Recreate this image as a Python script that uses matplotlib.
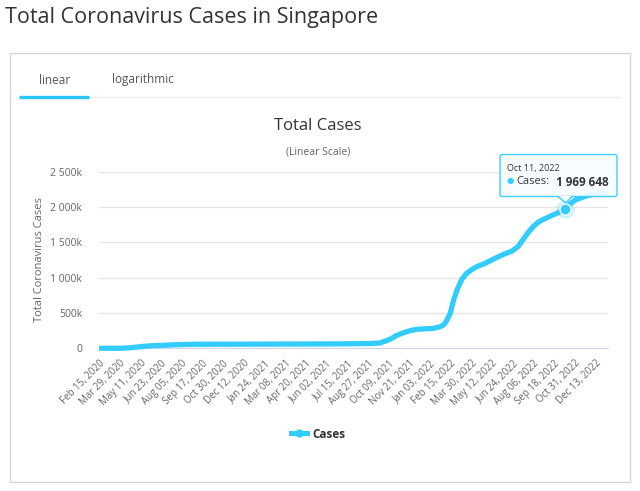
import datetime as dt
import matplotlib
matplotlib.use("Agg")
import matplotlib.pyplot as plt
from matplotlib.patches import Rectangle, FancyBboxPatch, Polygon
from matplotlib.lines import Line2D
from matplotlib.ticker import FuncFormatter

plt.rcParams["font.family"] = ["Open Sans", "DejaVu Sans"]

# ---- data ----
dates = [
    "2020-02-15", "2020-03-15", "2020-04-05", "2020-04-20", "2020-05-05",
    "2020-05-20", "2020-06-10", "2020-07-05", "2020-08-01", "2020-09-01",
    "2020-10-15", "2020-12-15", "2021-02-15", "2021-04-15", "2021-06-15",
    "2021-08-01", "2021-09-01", "2021-09-21", "2021-10-12", "2021-10-25",
    "2021-11-09", "2021-11-25", "2021-12-10", "2021-12-28", "2022-01-10",
    "2022-01-24", "2022-02-01", "2022-02-07", "2022-02-14", "2022-02-21",
    "2022-02-28", "2022-03-10", "2022-03-20", "2022-04-01", "2022-04-10",
    "2022-04-25", "2022-05-04", "2022-05-20", "2022-06-05", "2022-06-22",
    "2022-07-05", "2022-07-15", "2022-07-25", "2022-08-05", "2022-08-15",
    "2022-08-25", "2022-09-10", "2022-09-25", "2022-10-11", "2022-10-22",
    "2022-11-01", "2022-11-11", "2022-11-25", "2022-12-10", "2022-12-25",
    "2023-01-08",
]
cases = [
    72, 226, 1300, 8000, 19000,
    29000, 38500, 45000, 52500, 56800,
    57900, 58400, 59900, 60800, 62300,
    65000, 68000, 75000, 127000, 180000,
    221000, 255000, 271000, 277000, 282000,
    305000, 335000, 395000, 495000, 680000,
    825000, 975000, 1061000, 1120000, 1155000,
    1195000, 1225000, 1280000, 1330000, 1375000,
    1440000, 1535000, 1630000, 1720000, 1780000,
    1820000, 1870000, 1915000, 1969648, 2050000,
    2100000, 2125000, 2160000, 2180000, 2192000,
    2200000,
]
tick_dates = [
    "2020-02-15", "2020-03-29", "2020-05-11", "2020-06-23", "2020-08-05",
    "2020-09-17", "2020-10-30", "2020-12-12", "2021-01-24", "2021-03-08",
    "2021-04-20", "2021-06-02", "2021-07-15", "2021-08-27", "2021-10-09",
    "2021-11-21", "2022-01-03", "2022-02-15", "2022-03-30", "2022-05-12",
    "2022-06-24", "2022-08-06", "2022-09-18", "2022-10-31", "2022-12-13",
]
y_ticks = [0, 500000, 1000000, 1500000, 2000000, 2500000]
hover_date = "2022-10-11"
hover_value = 1969648

LINE_COLOR = "#33ccff"
W, H = 640, 491


def px(x, y):
    """pixel position (top-left origin) -> figure fraction"""
    return x / W, 1 - y / H


def to_dt(s):
    return dt.datetime.strptime(s, "%Y-%m-%d")


x = [to_dt(d) for d in dates]

fig = plt.figure(figsize=(6.4, 4.91), dpi=100)
fig.patch.set_facecolor("white")

# page title and panel frame
fig.text(*px(5, 17), "Total Coronavirus Cases in Singapore", fontsize=15.5,
         color="#333333", va="center", ha="left")
x0, y0 = px(10, 482)
fig.add_artist(Rectangle((x0, y0), 620 / W, 429 / H, transform=fig.transFigure,
                         fill=False, edgecolor="#d6d6d6", lw=1))

# tabs
fig.text(*px(55, 80), "linear", fontsize=8.5, color="#555555", ha="center", va="center")
fig.text(*px(143, 80), "logarithmic", fontsize=8.5, color="#555555", ha="center", va="center")
fig.add_artist(Line2D([89 / W, 620 / W], [1 - 96.5 / H] * 2, transform=fig.transFigure,
                      color="#eeeeee", lw=1))
fig.add_artist(Line2D([19 / W, 89 / W], [1 - 97 / H] * 2, transform=fig.transFigure,
                      color="#29c5f6", lw=2.4, solid_capstyle="butt"))

# chart titles
fig.text(*px(318, 126), "Total Cases", fontsize=12, color="#333333", ha="center", va="center")
fig.text(*px(318, 152), "(Linear Scale)", fontsize=7.5, color="#666666", ha="center", va="center")

# main axes
ax = fig.add_axes([99 / W, 1 - 348.3 / H, 509 / W, 176.6 / H])
ax.plot(x, cases, color=LINE_COLOR, lw=3.8, solid_joinstyle="round",
        solid_capstyle="butt", zorder=3, clip_on=False)
ax.set_xlim(to_dt("2020-02-15"), to_dt("2023-01-08"))
ax.set_ylim(0, 2500000)

ax.set_yticks(y_ticks)
ax.yaxis.set_major_formatter(FuncFormatter(
    lambda v, p: "0" if v == 0 else f"{int(v / 1000):,}k".replace(",", " ")))
ax.grid(axis="y", color="#e6e6e6", lw=1)
ax.set_axisbelow(True)
for s in ["top", "right", "left"]:
    ax.spines[s].set_visible(False)
ax.spines["bottom"].set_color("#ccd6eb")
ax.tick_params(axis="y", length=0, labelsize=7.5, labelcolor="#666666", pad=12)

ax.set_xticks([to_dt(d) for d in tick_dates])
ax.set_xticklabels([to_dt(d).strftime("%b %d, %Y") for d in tick_dates])
ax.tick_params(axis="x", length=0, labelsize=7, labelcolor="#666666", pad=7)
for lab in ax.get_xticklabels():
    lab.set_rotation(45)
    lab.set_ha("right")
    lab.set_va("top")
    lab.set_rotation_mode("anchor")

ax.set_ylabel("Total Coronavirus Cases", fontsize=8, color="#666666", labelpad=4)

# hovered point
hx = to_dt(hover_date)
ax.plot([hx], [hover_value], "o", ms=13, color=LINE_COLOR, alpha=0.25, zorder=4,
        mec="none", clip_on=False)
ax.plot([hx], [hover_value], "o", ms=8, color=LINE_COLOR, mec="white", mew=1,
        zorder=5, clip_on=False)

# tooltip
bx0, by0 = px(500, 196.5)
tip = FancyBboxPatch((bx0, by0), 117 / W, 42 / H, transform=fig.transFigure,
                     boxstyle="round,pad=0,rounding_size=0.004",
                     facecolor="#f7fdff", edgecolor="#33ccff", lw=1, alpha=0.92,
                     zorder=10)
fig.add_artist(tip)
fig.add_artist(Polygon([px(558, 196), px(566, 203), px(572, 196)], closed=True,
                       transform=fig.transFigure, facecolor="#f7fdff",
                       edgecolor="none", zorder=11))
fig.add_artist(Line2D([558 / W, 566 / W, 572 / W],
                      [1 - 196.5 / H, 1 - 203 / H, 1 - 196.5 / H],
                      transform=fig.transFigure, color="#33ccff", lw=1, zorder=11))
fig.text(*px(507, 168), hx.strftime("%b %d, %Y").replace(" 0", " "), fontsize=6.5,
         color="#333333", va="center", zorder=12)
fig.text(*px(510, 182), "\u25CF", fontsize=6, color=LINE_COLOR, va="center",
         ha="center", zorder=12)
fig.text(*px(516, 182), "Cases:", fontsize=8, color="#333333",
         va="center", zorder=12)
fig.text(*px(609, 182), f"{hover_value:,}".replace(",", " "), fontsize=8.5,
         fontweight="bold", color="#333333", va="center", ha="right", zorder=12)

# legend
leg_handle = Line2D([], [], color=LINE_COLOR, lw=3.6, marker="o", ms=5)
fig.legend([leg_handle], ["Cases"], loc="center", bbox_to_anchor=px(318, 434),
           frameon=False, handlelength=1.4, prop={"weight": "bold", "size": 8.5},
           labelcolor="#333333", handletextpad=0.4)

fig.savefig("out.png", dpi=100, facecolor="white")
